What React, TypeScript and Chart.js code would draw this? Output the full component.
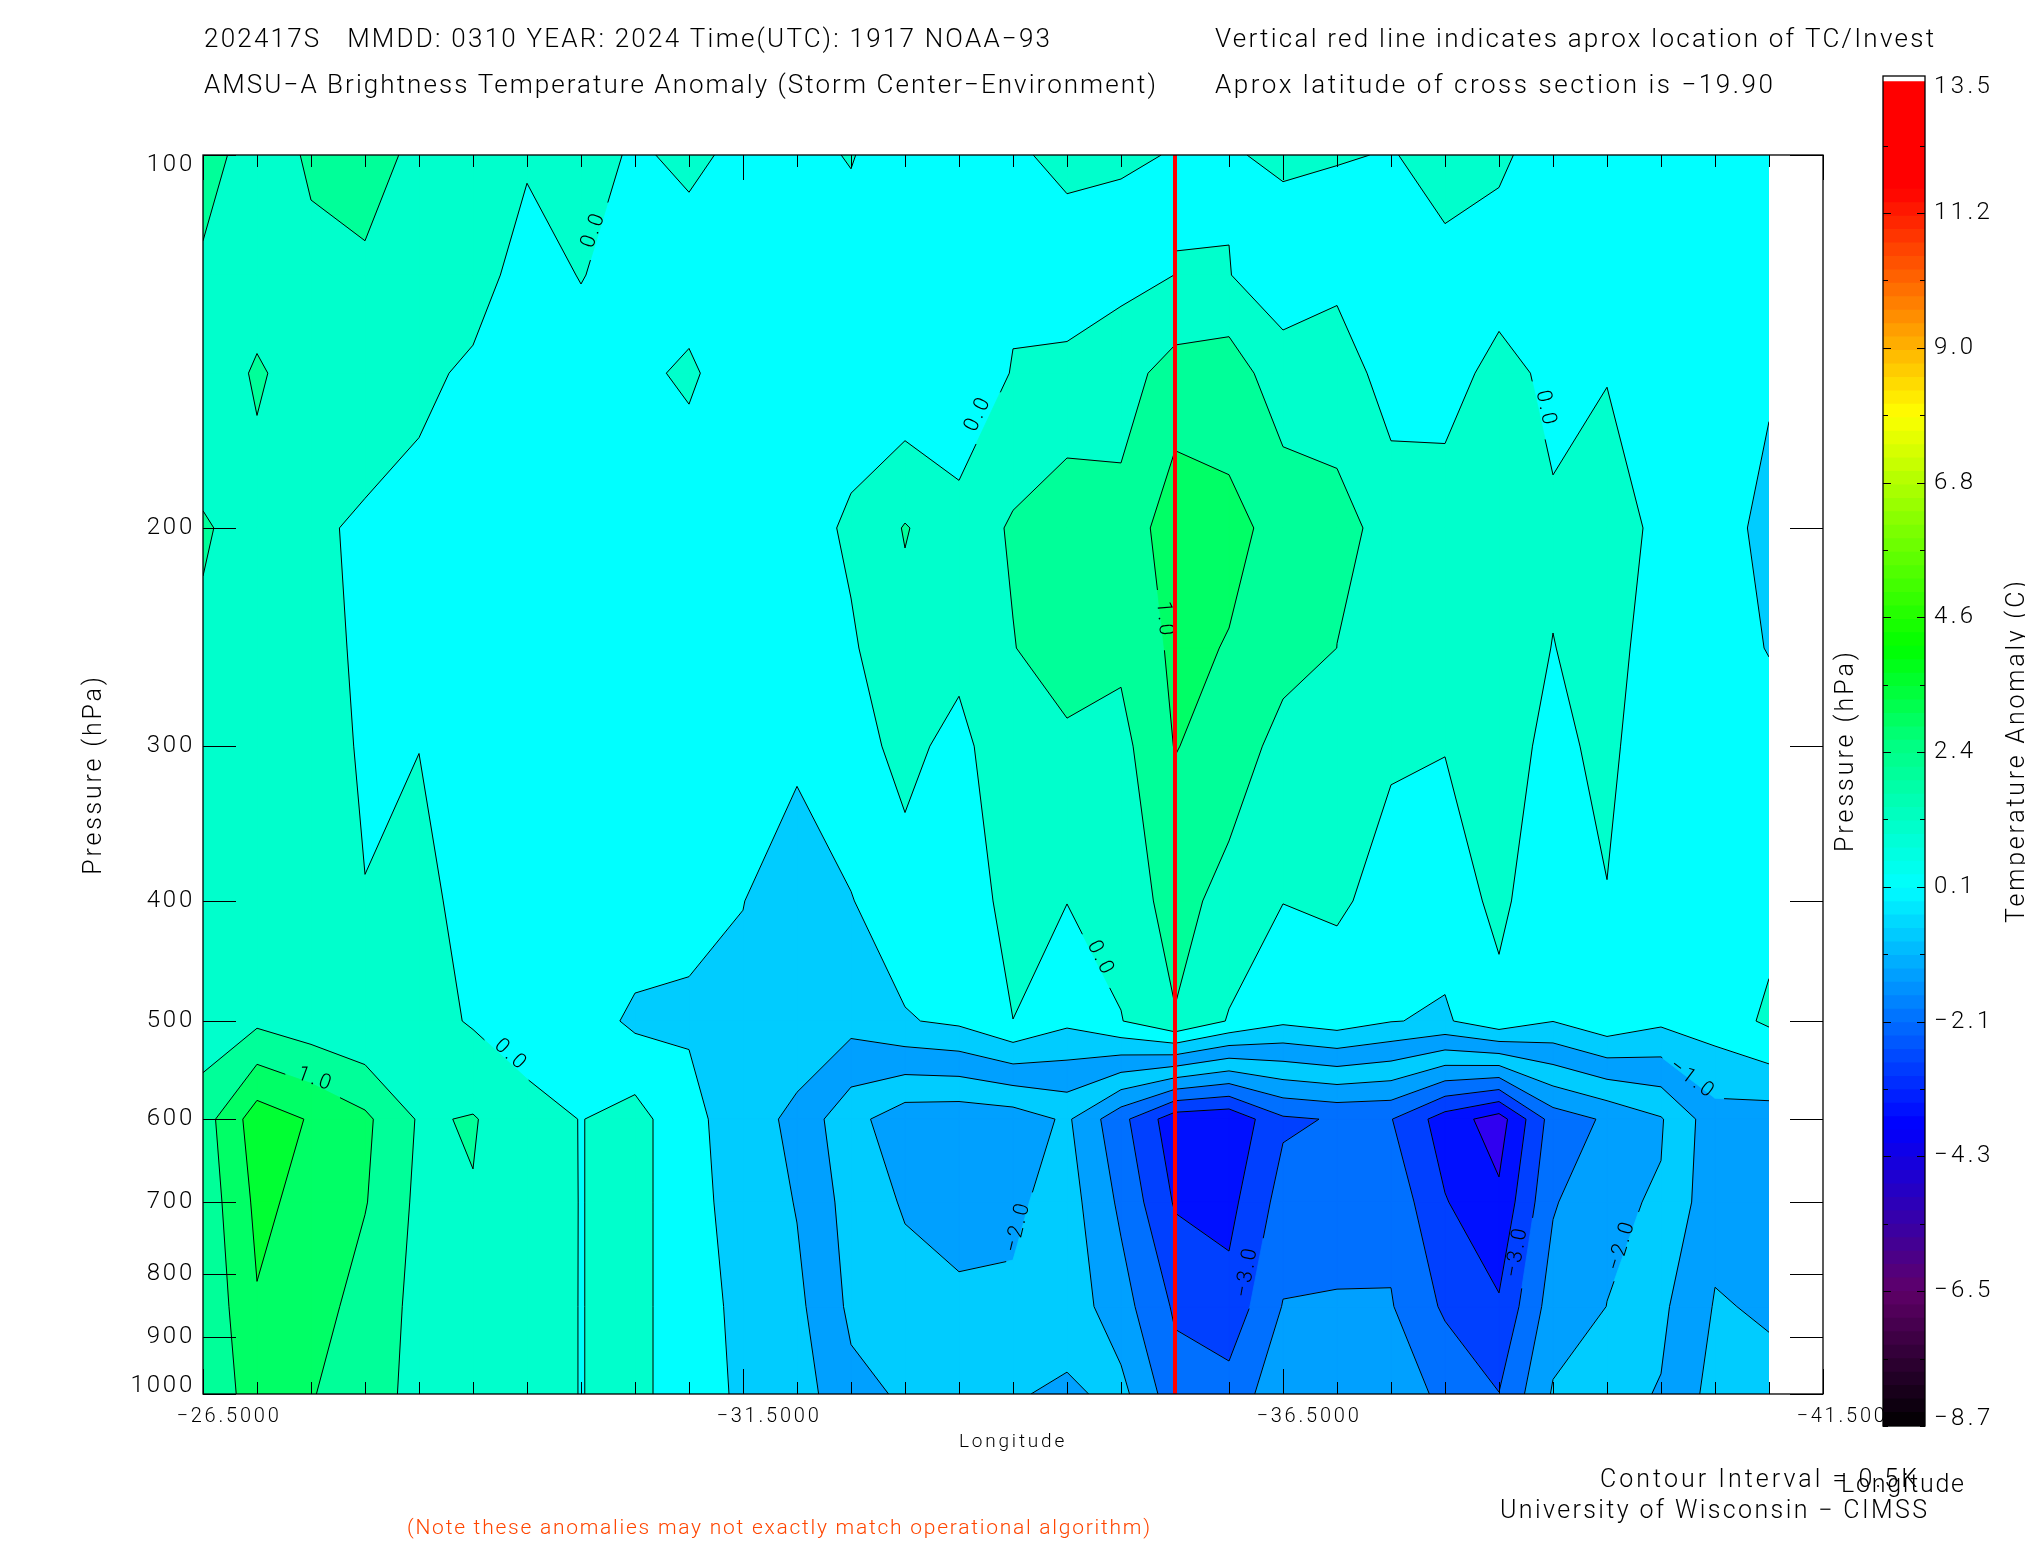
import React, { useEffect, useRef } from "react";
import { Chart, registerables } from "chart.js";

Chart.register(...registerables);

// ---------- data ----------
const longitudes = [
  -26.5, -27, -27.5, -28, -28.5, -29, -29.5, -30, -30.5, -31, -31.5, -32, -32.5, -33, -33.5,
  -34, -34.5, -35, -35.5, -36, -36.5, -37, -37.5, -38, -38.5, -39, -39.5, -40, -40.5, -41,
];
const pressureLevels = [100, 125, 150, 200, 250, 300, 400, 500, 600, 700, 850, 1000];

const p100 = [0.6, 0.38, 0.53, 0.7, 0.38, 0.45, 0.06, 0.16, -0.05, 0.08, -0.09, -0.09, 0.02, -0.21, -0.2, -0.06, 0.1, 0.035, -0.012, -0.03, 0.06, 0.02, -0.013, 0.08, 0.08, -0.22, -0.2, -0.2, -0.2, -0.2];
const p125 = [0.46, 0.38, 0.45, 0.42, 0.25, 0.2, -0.195, 0.02, -0.2, -0.178, -0.2, -0.2, -0.154, -0.3, -0.3, -0.1, -0.21, -0.14, 0.003, 0.01, -0.21, -0.207, -0.2, -0.06, -0.216, -0.2, -0.2, -0.2, -0.2, -0.25];
const p150 = [0.34, 0.53, 0.38, 0.38, 0.1, -0.08, -0.3, -0.2, -0.083, 0.06, -0.226, -0.3, -0.29, -0.41, -0.45, 0.033, 0.1, 0.3, 0.7, 0.79, 0.165, 0.46, -0.367, -0.2, 0.16, -0.115, -0.02, -0.2, -0.2, -0.4];
const p200 = [0.52, 0.42, 0.1, -0.09, -0.14, -0.3, -0.3, -0.2, -0.2, -0.24, -0.3, -0.233, 0.084, 0.53, 0.2, 0.56, 0.83, 0.645, 1.3, 1.11, 0.87, 0.525, 0.473, 0.24, 0.35, 0.06, 0.2, -0.1, -0.17, -0.72];
const p250 = [0.47, 0.35, 0.2, -0.1, -0.15, -0.3, -0.3, -0.25, -0.2, -0.3, -0.3, -0.3, -0.06, 0.35, 0.17, 0.48, 0.8, 0.6, 1.1, 0.978, 0.7, 0.499, 0.3, 0.3, 0.2, -0.0086, 0.135, -0.18, -0.2, -0.53];
const p300 = [0.45, 0.35, 0.2, -0.053, -0.015, -0.3, -0.3, -0.3, -0.2, -0.3, -0.3, -0.4, -0.2, 0.15, -0.176, 0.45, 0.38, 0.35, 1.02, 0.8, 0.315, 0.25, 0.05, 0.02, 0.163, -0.1, 0.1, -0.3, -0.2, -0.2];
const p400 = [0.45, 0.4, 0.3, 0.011, 0.3, -0.37, -0.4, -0.35, -0.17, -0.43, -0.49, -0.785, -0.52, -0.2, -0.4, 0.235, 0.01, 0.2, 0.7, 0.31, 0.01, 0.063, -0.15, -0.27, 0.12, -0.4, -0.016, -0.3, -0.25, -0.15];
const p500 = [0.2, 0.4, 0.2, 0.02, 0.2, -0.05, -0.33, -0.243, -0.6, -0.541, -0.62, -0.555, -0.82, -0.54, -0.4, -0.004, -0.39, -0.02, 0.47, -0.035, -0.4, -0.24, -0.48, -0.565, -0.15, -0.49, -0.14, -0.4, -0.26, 0.082];
const p600 = [0.77, 1.76, 1.46, 1.1, 0.45, 0.53, 0.23, -0.015, 0.2, -0.4, -0.68, -1.168, -1.83, -2.3, -2.35, -2.28, -1.92, -2.85, -3.8, -3.9, -3.08, -2.96, -2.98, -3.74, -4.23, -2.77, -2.43, -2.04, -1.2, -1.25];
const p700 = [0.67, 1.61, 1.35, 1.03, 0.39, 0.48, 0.27, -0.015, 0.2, -0.4, -0.617, -1.03, -1.7, -2.05, -2.2, -2.1, -1.77, -2.6, -3.55, -3.65, -2.8, -2.7, -2.65, -3.47, -3.9, -2.55, -2.074, -1.96, -1.15, -1.2];
const p850 = [0.57, 1.465, 1.25, 0.78, 0.374, 0.35, 0.25, -0.015, 0.2, -0.4, -0.556, -0.88, -1.6, -1.81, -1.9, -1.92, -1.7, -2.3, -3.07, -3.33, -2.477, -2.46, -2.467, -3.08, -3.44, -2.25, -1.996, -1.6, -0.966, -1.05];
const p1000 = [0.52, 1.3, 1.03, 0.73, 0.347, 0.3, 0.25, -0.015, 0.2, -0.4, -0.535, -0.753, -1.37, -1.557, -1.8, -1.95, -2.1, -1.85, -2.8, -2.8, -2.17, -2.25, -2.255, -2.6, -2.99, -1.95, -1.646, -1.47, -0.815, -0.88];
const anomalyRows = [p100, p125, p150, p200, p250, p300, p400, p500, p600, p700, p850, p1000];

const contourLevels = [-4, -3.5, -3, -2.5, -2, -1.5, -1, -0.5, 0, 0.5, 1, 1.5];
const lowestBandColor = "#3000F0";
const bandColors = ["#0010FF", "#0040FF", "#0070FF", "#00A0FF", "#00CCFF", "#00A0FF", "#00CCFF", "#00FFFF", "#00FFCC", "#00FF99", "#00FF66", "#00FF33"];

const contourLabelText = ["0.0", "0.0", "1.0", "0.0", "1.0", "0.0", "\u22122.0", "\u22123.0", "\u22123.0", "\u22122.0", "\u22121.0", "0.0"];
const contourLabelLevel = [0, 0, 1, 0, 1, 0, -2, -3, -3, -2, -1, 0];
const contourLabelLon = [-30.12, -33.68, -35.4, -29.35, -27.54, -34.81, -34.05, -36.17, -38.67, -39.64, -40.29, -38.93];
const contourLabelP = [114.9, 161.7, 237.2, 533, 557.6, 445.4, 732.7, 796.6, 767.5, 758.3, 557.6, 160.3];
const contourLabelAngle = [-70, -65, 85, 42, 20, 63, -76, -80, -80, -73, 37, 78];

const tcLongitude = -35.5;
const xTickValues = [...longitudes, -41.5];
const xLabelledTicks = [-26.5, -31.5, -36.5, -41.5];
const yTickValues = [100, 200, 300, 400, 500, 600, 700, 800, 900, 1000];
const yTickLabelAnchors = [101.8, 200, 300, 400, 500, 600, 700, 800, 900, 986];
const yTickLabelText = ["100", "200", "300", "400", "500", "600", "700", "800", "900", "1000"];

const colorStopValues = [-8.7, -6.5, -3.8, -2.1, 0.1, 2.4, 4.0, 6.0, 7.8, 9.6, 11.5, 13.4];
const colorStopReds = [0, 95, 0, 0, 0, 0, 0, 130, 255, 255, 255, 255];
const colorStopGreens = [0, 0, 0, 110, 255, 255, 255, 255, 255, 128, 0, 0];
const colorStopBlues = [0, 105, 255, 255, 255, 130, 0, 0, 0, 0, 0, 0];
const colorTickValues = [-8.7, -7.6, -6.5, -5.4, -4.3, -3.2, -2.1, -1, 0.1, 1.2, 2.3, 3.4, 4.5, 5.6, 6.7, 7.8, 8.9, 10, 11.1, 12.2];
const colorMajorTicks = [-6.5, -4.3, -2.1, 0.1, 2.3, 4.5, 6.7, 8.9, 11.1];
const colorLabelValues = [-8.58, -6.5, -4.3, -2.1, 0.1, 2.3, 4.5, 6.7, 8.9, 11.1, 13.16];
const colorLabelText = ["\u22128.7", "\u22126.5", "\u22124.3", "\u22122.1", "0.1", "2.4", "4.6", "6.8", "9.0", "11.2", "13.5"];

const FONT = "Roboto, 'Liberation Sans'";
const WEIGHT = "300";

// ---------- helpers ----------
type Pt = [number, number];

function setSpacing(ctx: any, px: number) {
  ctx.letterSpacing = px + "px";
}

function fitText(ctx: any, text: string, x: number, y: number, w: number, size: number, color = "#000", rot = 0) {
  ctx.save();
  ctx.font = `${WEIGHT} ${size}px ${FONT}`;
  ctx.fillStyle = color;
  ctx.textAlign = "left";
  ctx.textBaseline = "alphabetic";
  setSpacing(ctx, 0);
  const natural = ctx.measureText(text).width;
  setSpacing(ctx, (w - natural) / Math.max(1, text.length - 1));
  ctx.translate(x, y);
  if (rot) ctx.rotate(rot);
  ctx.fillText(text, 0, 0);
  ctx.restore();
}

function cross(a: Pt, b: Pt, va: number, vb: number, L: number): Pt {
  const t = (L - va) / (vb - va);
  return [a[0] + t * (b[0] - a[0]), a[1] + t * (b[1] - a[1])];
}

function strokeWithGaps(ctx: any, a: Pt, b: Pt, gaps: { x: number; y: number; r: number }[]) {
  let spans: [number, number][] = [[0, 1]];
  const dx = b[0] - a[0];
  const dy = b[1] - a[1];
  const A = dx * dx + dy * dy;
  if (A === 0) return;
  for (const g of gaps) {
    const fx = a[0] - g.x;
    const fy = a[1] - g.y;
    const B = 2 * (fx * dx + fy * dy);
    const C = fx * fx + fy * fy - g.r * g.r;
    const D = B * B - 4 * A * C;
    if (D <= 0) continue;
    const t1 = (-B - Math.sqrt(D)) / (2 * A);
    const t2 = (-B + Math.sqrt(D)) / (2 * A);
    const next: [number, number][] = [];
    for (const [s, e] of spans) {
      if (t2 <= s || t1 >= e) {
        next.push([s, e]);
        continue;
      }
      if (t1 > s) next.push([s, t1]);
      if (t2 < e) next.push([t2, e]);
    }
    spans = next;
  }
  for (const [s, e] of spans) {
    ctx.moveTo(a[0] + s * dx, a[1] + s * dy);
    ctx.lineTo(a[0] + e * dx, a[1] + e * dy);
  }
}

function tracePolygon(ctx: any, poly: Pt[]) {
  if (poly.length < 3) return;
  ctx.moveTo(poly[0][0], poly[0][1]);
  for (let i = 1; i < poly.length; i++) ctx.lineTo(poly[i][0], poly[i][1]);
  ctx.closePath();
}

function drawContours(chart: any) {
  const { ctx, scales } = chart;
  const X = longitudes.map((v) => scales.x.getPixelForValue(v));
  const Y = pressureLevels.map((v) => scales.y.getPixelForValue(v));
  const cells: { pts: Pt[]; vals: number[] }[] = [];
  for (let r = 0; r < Y.length - 1; r++) {
    for (let c = 0; c < X.length - 1; c++) {
      cells.push({
        pts: [[X[c], Y[r]], [X[c + 1], Y[r]], [X[c + 1], Y[r + 1]], [X[c], Y[r + 1]]],
        vals: [anomalyRows[r][c], anomalyRows[r][c + 1], anomalyRows[r + 1][c + 1], anomalyRows[r + 1][c]],
      });
    }
  }
  ctx.save();
  ctx.beginPath();
  ctx.rect(X[0], Y[0], X[X.length - 1] - X[0], Y[Y.length - 1] - Y[0]);
  ctx.clip();
  ctx.fillStyle = lowestBandColor;
  ctx.fillRect(X[0], Y[0], X[X.length - 1] - X[0], Y[Y.length - 1] - Y[0]);

  contourLevels.forEach((L, li) => {
    ctx.fillStyle = bandColors[li];
    ctx.strokeStyle = bandColors[li];
    ctx.lineWidth = 0.8;
    ctx.beginPath();
    for (const cell of cells) {
      const v = cell.vals;
      const isSaddle = v[0] >= L === v[2] >= L && v[1] >= L === v[3] >= L && v[0] >= L !== v[1] >= L;
      const mean = (v[0] + v[1] + v[2] + v[3]) / 4;
      if (isSaddle && mean < L) {
        // the two high corners are not connected: one triangle for each
        for (let k = 0; k < 4; k++) {
          if (v[k] < L) continue;
          const n = (k + 1) % 4;
          const p = (k + 3) % 4;
          tracePolygon(ctx, [cell.pts[k], cross(cell.pts[k], cell.pts[n], v[k], v[n], L), cross(cell.pts[k], cell.pts[p], v[k], v[p], L)]);
        }
        continue;
      }
      const poly: Pt[] = [];
      for (let k = 0; k < 4; k++) {
        const n = (k + 1) % 4;
        if (v[k] >= L) poly.push(cell.pts[k]);
        if (v[k] >= L !== v[n] >= L) poly.push(cross(cell.pts[k], cell.pts[n], v[k], v[n], L));
      }
      tracePolygon(ctx, poly);
    }
    ctx.fill();
    ctx.stroke();
  });

  ctx.strokeStyle = "#000";
  ctx.lineWidth = 1;
  contourLevels.forEach((L) => {
    const gaps = contourLabelLevel
      .map((lv, i) => ({
        lv,
        x: scales.x.getPixelForValue(contourLabelLon[i]),
        y: scales.y.getPixelForValue(contourLabelP[i]),
        r: 11 + contourLabelText[i].length * 6.5,
      }))
      .filter((g) => g.lv === L);
    ctx.beginPath();
    for (const cell of cells) {
      const hits: Pt[] = [];
      for (let k = 0; k < 4; k++) {
        const n = (k + 1) % 4;
        const va = cell.vals[k];
        const vb = cell.vals[n];
        if (va >= L !== vb >= L) hits.push(cross(cell.pts[k], cell.pts[n], va, vb, L));
      }
      if (hits.length === 2) strokeWithGaps(ctx, hits[0], hits[1], gaps);
      if (hits.length === 4) {
        const mean = (cell.vals[0] + cell.vals[1] + cell.vals[2] + cell.vals[3]) / 4;
        const first = cell.vals[0] >= L === mean >= L;
        if (first) {
          strokeWithGaps(ctx, hits[0], hits[1], gaps);
          strokeWithGaps(ctx, hits[2], hits[3], gaps);
        } else {
          strokeWithGaps(ctx, hits[0], hits[3], gaps);
          strokeWithGaps(ctx, hits[1], hits[2], gaps);
        }
      }
    }
    ctx.stroke();
  });
  ctx.restore();

  ctx.save();
  ctx.fillStyle = "#000";
  ctx.font = `${WEIGHT} 21px ${FONT}`;
  ctx.textAlign = "center";
  ctx.textBaseline = "middle";
  setSpacing(ctx, 3);
  contourLabelText.forEach((t, i) => {
    ctx.save();
    ctx.translate(scales.x.getPixelForValue(contourLabelLon[i]), scales.y.getPixelForValue(contourLabelP[i]));
    ctx.rotate((contourLabelAngle[i] * Math.PI) / 180);
    ctx.fillText(t, 0, 0);
    ctx.restore();
  });
  ctx.restore();
}

const contourPlugin = {
  id: "contourPlugin",
  beforeDraw(chart: any) {
    setSpacing(chart.ctx, 2.8);
  },
  beforeDatasetsDraw(chart: any) {
    drawContours(chart);
  },
  afterDraw(chart: any) {
    const { ctx, scales, chartArea: a } = chart;
    ctx.save();
    setSpacing(ctx, 0);
    ctx.strokeStyle = "#000";
    ctx.lineWidth = 1.3;
    ctx.strokeRect(a.left, a.top, a.right - a.left, a.bottom - a.top);
    ctx.lineWidth = 1;
    ctx.beginPath();
    for (const v of yTickValues) {
      const y = Math.round(scales.y.getPixelForValue(v)) + 0.5;
      ctx.moveTo(a.left, y);
      ctx.lineTo(a.left + 33, y);
      ctx.moveTo(a.right, y);
      ctx.lineTo(a.right - 33, y);
    }
    for (const v of xTickValues) {
      if (v === tcLongitude) continue;
      const x = Math.round(scales.x.getPixelForValue(v)) + 0.5;
      const len = Math.round((v + 26.5) * 10) % 50 === 0 ? 25 : 12;
      ctx.moveTo(x, a.top);
      ctx.lineTo(x, a.top + len);
      ctx.moveTo(x, a.bottom);
      ctx.lineTo(x, a.bottom - len);
    }
    ctx.stroke();
    ctx.restore();

    fitText(ctx, "202417S   MMDD: 0310 YEAR: 2024 Time(UTC): 1917 NOAA\u221293", 204, 47, 846, 26);
    fitText(ctx, "AMSU\u2212A Brightness Temperature Anomaly (Storm Center\u2212Environment)", 204, 93, 952, 26);
    fitText(ctx, "Vertical red line indicates aprox location of TC/Invest", 1215, 47, 719, 26);
    fitText(ctx, "Aprox latitude of cross section is \u221219.90", 1215, 93, 558, 26);
    fitText(ctx, "(Note these anomalies may not exactly match operational algorithm)", 407, 1534, 743, 21, "#FF4500");
    fitText(ctx, "Contour Interval = 0.5K", 1600, 1487, 317, 25);
    fitText(ctx, "University of Wisconsin \u2212 CIMSS", 1500, 1518, 427, 25);
    fitText(ctx, "Longitude", 1841, 1492, 123, 25);
    fitText(ctx, "Pressure (hPa)", 1853, 852, 200, 25, "#000", -Math.PI / 2);
    fitText(ctx, "Temperature Anomaly (C)", 2024, 923, 342, 25, "#000", -Math.PI / 2);
  },
};

function colorAt(v: number) {
  let i = 0;
  while (i < colorStopValues.length - 2 && v > colorStopValues[i + 1]) i++;
  const t = Math.min(1, (v - colorStopValues[i]) / (colorStopValues[i + 1] - colorStopValues[i]));
  const mix = (a: number[]) => Math.round(a[i] + t * (a[i + 1] - a[i]));
  return `rgb(${mix(colorStopReds)},${mix(colorStopGreens)},${mix(colorStopBlues)})`;
}

const colorbarPlugin = {
  id: "colorbarPlugin",
  beforeDraw(chart: any) {
    setSpacing(chart.ctx, 3.4);
  },
  afterDraw(chart: any) {
    const { ctx, scales, chartArea: a } = chart;
    ctx.save();
    ctx.strokeStyle = "#000";
    ctx.lineWidth = 1.3;
    ctx.strokeRect(a.left, a.top, a.right - a.left, a.bottom - a.top);
    ctx.lineWidth = 1;
    ctx.beginPath();
    for (const v of colorTickValues) {
      const y = Math.round(scales.y.getPixelForValue(v)) + 0.5;
      const len = colorMajorTicks.includes(v) ? 8 : 5;
      ctx.moveTo(a.left, y);
      ctx.lineTo(a.left + len, y);
      ctx.moveTo(a.right, y);
      ctx.lineTo(a.right - len, y);
    }
    ctx.stroke();
    ctx.restore();
  },
};

export default function App() {
  const mainRef = useRef<HTMLCanvasElement>(null);
  const barRef = useRef<HTMLCanvasElement>(null);

  useEffect(() => {
    const main = new Chart(mainRef.current as any, {
      type: "scatter",
      data: {
        datasets: [
          {
            label: "TC location",
            data: [{ x: tcLongitude, y: 100 }, { x: tcLongitude, y: 1000 }],
            showLine: true,
            borderColor: "#FF0000",
            borderWidth: 4,
            pointRadius: 0,
          },
        ],
      },
      options: {
        animation: false,
        responsive: false,
        layout: { padding: { top: 155, right: 202, left: 0, bottom: 0 } },
        plugins: { legend: { display: false }, tooltip: { enabled: false }, title: { display: false } },
        scales: {
          x: {
            type: "linear",
            reverse: true,
            min: -41.5,
            max: -26.5,
            afterBuildTicks: (s: any) => {
              s.ticks = xTickValues.map((value) => ({ value }));
            },
            afterFit: (s: any) => {
              s.height = 156;
            },
            grid: { display: false },
            border: { display: false },
            ticks: {
              autoSkip: false,
              maxRotation: 0,
              minRotation: 0,
              padding: 3,
              labelOffset: 26,
              color: "#000",
              font: { family: FONT, size: 20, weight: WEIGHT },
              callback: (v: any) => (xLabelledTicks.includes(Number(v)) ? Number(v).toFixed(4).replace("-", "\u2212") : ""),
            },
            title: {
              display: true,
              text: "Longitude",
              color: "#000",
              font: { family: FONT, size: 19, weight: WEIGHT },
              padding: { top: 0, bottom: 96 },
            },
          },
          y: {
            type: "logarithmic",
            reverse: true,
            min: 100,
            max: 1000,
            afterBuildTicks: (s: any) => {
              s.ticks = yTickLabelAnchors.map((value) => ({ value }));
            },
            afterFit: (s: any) => {
              s.width = 203;
            },
            grid: { display: false },
            border: { display: false },
            ticks: {
              autoSkip: false,
              padding: 0,
              color: "#000",
              font: { family: FONT, size: 24, weight: WEIGHT },
              callback: (v: any) => yTickLabelText[yTickLabelAnchors.indexOf(Number(v))],
            },
            title: {
              display: true,
              text: "Pressure (hPa)",
              color: "#000",
              font: { family: FONT, size: 25, weight: WEIGHT },
              padding: { top: 80, bottom: 0 },
            },
          },
        },
      } as any,
      plugins: [contourPlugin],
    });

    const stepCount = 100;
    const lowest = colorStopValues[0];
    const highest = 13.24;
    const step = (highest - lowest) / stepCount;
    const colorSteps = Array.from({ length: stepCount }, (_, i) => lowest + i * step);

    const bar = new Chart(barRef.current as any, {
      type: "bar",
      data: {
        labels: ["Temperature Anomaly (C)"],
        datasets: colorSteps.map((lo) => ({
          data: [[lo, lo + step * 1.02]],
          backgroundColor: colorAt(lo + step / 2),
          borderWidth: 0,
          barPercentage: 1,
          categoryPercentage: 1,
          grouped: false,
        })) as any,
      },
      options: {
        animation: false,
        responsive: false,
        layout: { padding: { top: 76, bottom: 124, left: 33, right: 0 } },
        plugins: { legend: { display: false }, tooltip: { enabled: false } },
        scales: {
          x: { display: false },
          y: {
            position: "right",
            min: -8.7,
            max: 13.335,
            afterBuildTicks: (s: any) => {
              s.ticks = colorLabelValues.map((value) => ({ value }));
            },
            afterFit: (s: any) => {
              s.width = 100;
            },
            grid: { display: false },
            border: { display: false },
            ticks: {
              autoSkip: false,
              padding: 1,
              color: "#000",
              font: { family: FONT, size: 24, weight: WEIGHT },
              callback: (v: any) => colorLabelText[colorLabelValues.indexOf(Number(v))],
            },
          },
        },
      } as any,
      plugins: [colorbarPlugin],
    });

    return () => {
      main.destroy();
      bar.destroy();
    };
  }, []);

  return (
    <>
      <canvas ref={mainRef} width={2025} height={1550} style={{ position: "absolute", left: 0, top: 0, width: 2025, height: 1550 }} />
      <canvas ref={barRef} width={175} height={1550} style={{ position: "absolute", left: 1850, top: 0, width: 175, height: 1550 }} />
    </>
  );
}
